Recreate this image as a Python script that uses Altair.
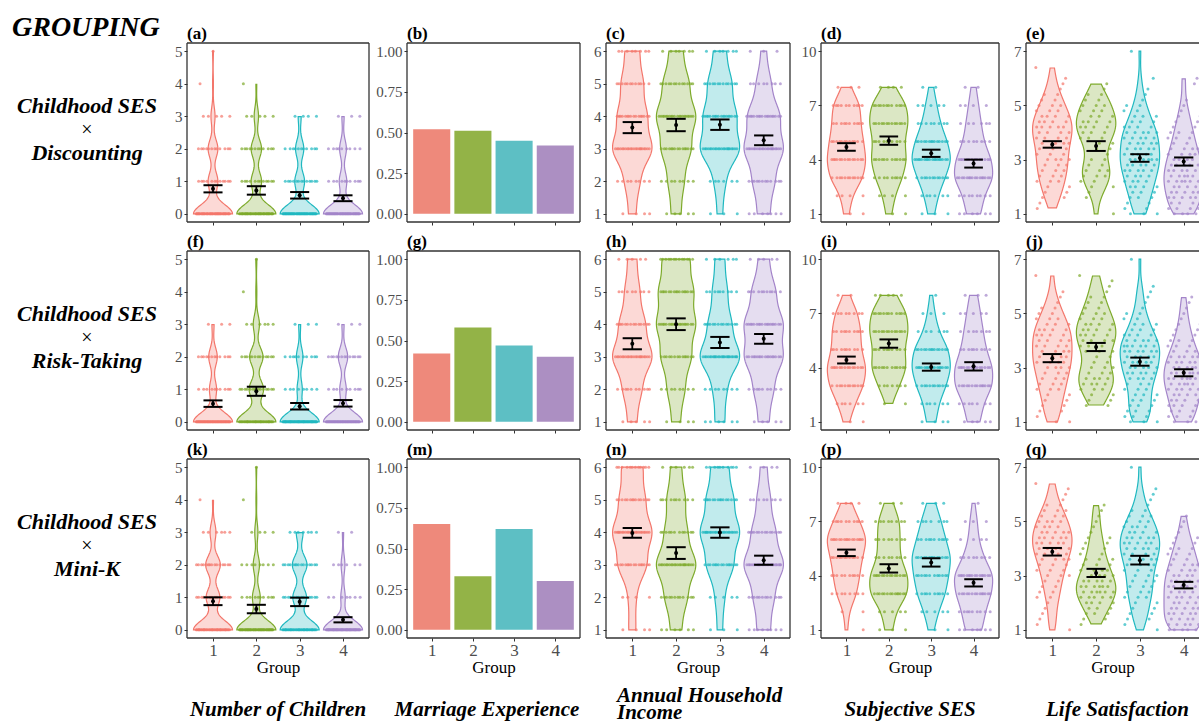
import altair as alt
import pandas as pd

FONT = "Liberation Serif"
GROUPS = [1, 2, 3, 4]
ROW_NAMES = ["Discounting", "Risk-Taking", "Mini-K"]
COLUMN_TITLES = ["Number of Children", "Marriage Experience", "Annual Household\nIncome",
                 "Subjective SES", "Life Satisfaction"]
LETTERS = [["(a)", "(b)", "(c)", "(d)", "(e)"],
           ["(f)", "(g)", "(h)", "(i)", "(j)"],
           ["(k)", "(m)", "(n)", "(p)", "(q)"]]

LINE_COLORS = ["#F3766B", "#7DAA2B", "#1FB8C0", "#A384C9"]
BAR_COLORS = ["#EE897B", "#93B347", "#5DBFC4", "#AC8FC2"]

# ---- Number of children (levels 0..5), counts per row / group ----
CHILD_LEVELS = [0, 1, 2, 3, 4, 5]
CHILD_COUNTS = [
    [[48, 12, 12, 5, 1, 1], [45, 12, 12, 5, 1, 0], [52, 13, 11, 4, 0, 0], [52, 10, 9, 3, 0, 0]],
    [[55, 10, 12, 3, 0, 0], [38, 14, 13, 6, 1, 1], [60, 8, 10, 3, 0, 0], [54, 9, 13, 3, 0, 0]],
    [[40, 14, 15, 6, 1, 0], [50, 10, 8, 4, 1, 1], [40, 14, 15, 7, 0, 0], [62, 7, 6, 2, 0, 0]],
]
CHILD_MEAN = [[0.77, 0.72, 0.57, 0.48], [0.56, 0.94, 0.48, 0.57], [0.88, 0.64, 0.86, 0.31]]
CHILD_SE = [[0.11, 0.13, 0.10, 0.09], [0.10, 0.14, 0.10, 0.10], [0.12, 0.13, 0.13, 0.08]]

# ---- Marriage experience (proportion) ----
MARRIAGE = [[0.52, 0.51, 0.45, 0.42], [0.42, 0.58, 0.47, 0.40], [0.65, 0.33, 0.62, 0.30]]

# ---- Annual household income (levels 1..6) ----
INCOME_LEVELS = [1, 2, 3, 4, 5, 6]
INCOME_COUNTS = [
    [[4, 8, 22, 16, 12, 8], [5, 8, 15, 20, 13, 7], [3, 6, 22, 18, 13, 7], [7, 12, 22, 18, 8, 3]],
    [[5, 10, 22, 14, 8, 5], [4, 8, 14, 18, 16, 13], [6, 8, 25, 14, 9, 6], [5, 9, 18, 18, 11, 5]],
    [[4, 4, 16, 22, 14, 12], [6, 12, 22, 12, 10, 6], [3, 5, 15, 22, 15, 10], [8, 12, 24, 14, 8, 4]],
]
INCOME_MEAN = [[3.65, 3.73, 3.74, 3.26], [3.40, 4.00, 3.44, 3.55], [3.98, 3.36, 3.99, 3.14]]
INCOME_SE = [[0.17, 0.19, 0.16, 0.15], [0.17, 0.18, 0.17, 0.15], [0.15, 0.18, 0.16, 0.14]]

# ---- Subjective SES (levels 1..8 on a 1..10 axis) ----
SES_LEVELS = [1, 2, 3, 4, 5, 6, 7, 8]
SES_COUNTS = [
    [[2, 4, 12, 14, 12, 10, 10, 3], [2, 4, 9, 12, 10, 13, 12, 4], [3, 6, 12, 18, 14, 8, 5, 2], [6, 8, 16, 14, 8, 6, 4, 2]],
    [[2, 6, 12, 14, 10, 10, 8, 2], [0, 2, 7, 12, 10, 13, 12, 5], [4, 6, 12, 16, 14, 6, 3, 1], [5, 7, 14, 14, 9, 7, 5, 3]],
    [[1, 2, 8, 10, 12, 16, 10, 4], [3, 5, 14, 14, 8, 8, 8, 3], [2, 5, 10, 12, 14, 10, 7, 3], [7, 9, 14, 16, 8, 4, 3, 1]],
]
SES_MEAN = [[4.70, 5.05, 4.35, 3.78], [4.42, 5.33, 4.03, 4.07], [5.26, 4.40, 4.73, 3.60]]
SES_SE = [[0.21, 0.23, 0.20, 0.22], [0.19, 0.23, 0.20, 0.23], [0.18, 0.23, 0.23, 0.20]]

# ---- Life satisfaction (levels 1.0..7.0 by 0.2) ----
LS_LEVELS = [1.0, 1.2, 1.4, 1.6, 1.8, 2.0, 2.2, 2.4, 2.6, 2.8, 3.0, 3.2, 3.4, 3.6, 3.8, 4.0,
             4.2, 4.4, 4.6, 4.8, 5.0, 5.2, 5.4, 5.6, 5.8, 6.0, 6.2, 6.4, 6.6, 6.8, 7.0]
LS_COUNTS = [
    [[0, 1, 1, 2, 2, 2, 3, 3, 3, 3, 4, 3, 3, 4, 4, 4, 5, 4, 4, 3, 3, 2, 2, 1, 1, 1, 0, 1, 0, 0, 0],
     [1, 0, 0, 1, 1, 2, 2, 3, 3, 2, 2, 1, 2, 2, 3, 3, 4, 4, 3, 3, 3, 2, 2, 1, 1, 0, 0, 0, 0, 0, 0],
     [3, 2, 2, 3, 3, 4, 4, 4, 5, 5, 6, 5, 5, 5, 5, 5, 4, 3, 3, 2, 2, 1, 1, 1, 0, 1, 0, 0, 0, 0, 1],
     [5, 4, 4, 5, 5, 5, 6, 6, 5, 5, 5, 4, 4, 3, 3, 3, 2, 2, 2, 1, 1, 1, 0, 0, 1, 1, 0, 0, 0, 0, 0]],
    [[2, 1, 2, 2, 2, 2, 3, 3, 3, 3, 4, 4, 4, 4, 4, 4, 4, 4, 3, 3, 2, 2, 1, 1, 1, 0, 0, 1, 0, 0, 0],
     [0, 0, 0, 2, 2, 2, 3, 4, 4, 3, 3, 2, 2, 3, 3, 4, 4, 4, 4, 3, 3, 2, 2, 2, 1, 1, 1, 1, 0, 0, 0],
     [3, 3, 3, 3, 3, 3, 3, 3, 4, 5, 5, 5, 5, 6, 6, 5, 4, 3, 3, 2, 2, 1, 1, 1, 1, 1, 0, 0, 0, 0, 1],
     [4, 3, 4, 4, 4, 5, 5, 6, 6, 6, 6, 5, 5, 4, 3, 3, 2, 2, 2, 1, 1, 1, 1, 1, 0, 0, 0, 0, 0, 0, 0]],
    [[1, 1, 1, 1, 1, 1, 2, 2, 2, 2, 3, 3, 3, 4, 4, 5, 5, 5, 5, 4, 4, 3, 3, 2, 1, 1, 1, 1, 0, 0, 0],
     [0, 1, 2, 3, 3, 4, 5, 6, 6, 5, 4, 4, 3, 3, 2, 2, 2, 2, 1, 1, 1, 1, 1, 1, 0, 0, 0, 0, 0, 0, 0],
     [1, 1, 2, 2, 2, 2, 3, 3, 3, 3, 3, 3, 4, 4, 4, 5, 5, 5, 4, 4, 3, 3, 2, 1, 1, 1, 1, 0, 0, 0, 1],
     [6, 5, 5, 5, 5, 5, 5, 5, 5, 5, 5, 4, 4, 3, 3, 3, 2, 2, 1, 1, 1, 1, 0, 0, 0, 0, 0, 0, 0, 0, 0]],
]
LS_MEAN = [[3.56, 3.50, 3.06, 2.93], [3.35, 3.76, 3.22, 2.81], [3.88, 3.10, 3.57, 2.65]]
LS_SE = [[0.12, 0.18, 0.14, 0.15], [0.15, 0.15, 0.15, 0.13], [0.14, 0.15, 0.16, 0.12]]

# ---- panel configuration (per column) ----
COLUMNS = [
    dict(kind="violin", levels=CHILD_LEVELS, counts=CHILD_COUNTS, mean=CHILD_MEAN, se=CHILD_SE,
         ydom=[-0.25, 5.25], yticks=[0, 1, 2, 3, 4, 5], yfmt="d", bw=0.28,
         ext=[0, 5], steps=201, width=182, xmax=4.6, axext=30, title_x=91),
    dict(kind="bar", values=MARRIAGE, ydom=[-0.05, 1.05], yticks=[0, 0.25, 0.5, 0.75, 1.0],
         yfmt=".2f", width=173, xmax=4.6, axext=37, title_x=80),
    dict(kind="violin", levels=INCOME_LEVELS, counts=INCOME_COUNTS, mean=INCOME_MEAN, se=INCOME_SE,
         ydom=[0.75, 6.25], yticks=[1, 2, 3, 4, 5, 6], yfmt="d", bw=0.45,
         ext=[1, 6], steps=201, width=184, xmax=4.6, axext=25, title_x=11),
    dict(kind="violin", levels=SES_LEVELS, counts=SES_COUNTS, mean=SES_MEAN, se=SES_SE,
         ydom=[0.55, 10.45], yticks=[1, 4, 7, 10], yfmt="d", bw=0.6,
         ext=[1, 8], steps=281, width=178, xmax=4.6, axext=30, title_x=89),
    # the last panel runs past the right edge of the figure, so it is cut at x = 4.35
    dict(kind="violin", levels=LS_LEVELS, counts=LS_COUNTS, mean=LS_MEAN, se=LS_SE,
         ydom=[0.7, 7.3], yticks=[1, 3, 5, 7], yfmt="d", bw=0.38,
         ext=[1, 7], steps=241, width=173, xmax=4.349, axext=26, title_x=91.5, open_right=True),
]
H = 179
ROW_SPACING = 7
GREY = "#4D4D4D"
FRAME = "#333333"
LABEL_SIZE = 21


def obs_frame(levels, counts):
    rows = []
    for g, cnts in zip(GROUPS, counts):
        for lv, c in zip(levels, cnts):
            rows.extend([{"group": g, "value": lv, "col": LINE_COLORS[g - 1]}] * c)
    return pd.DataFrame(rows)


def one_row():
    return alt.Data(values=[{"k": 0}])


def text_layer(text, x, y, size, weight="normal", style="normal", align="left", opacity=1.0,
               line_height=None):
    kw = dict(text=text, font=FONT, fontSize=size, fontWeight=weight, fontStyle=style,
              align=align, baseline="alphabetic", color="black", opacity=opacity)
    if line_height:
        kw.update(lineBreak="\n", lineHeight=line_height)
    return alt.Chart(one_row()).mark_text(**kw).encode(x=alt.value(x), y=alt.value(y))


def frame_layers(W, open_right):
    fr = alt.Chart(one_row())
    rule = dict(color=FRAME, strokeWidth=1.3)
    out = [
        fr.mark_rule(**rule).encode(x=alt.value(0), x2=alt.value(W), y=alt.value(0)),
        fr.mark_rule(**rule).encode(x=alt.value(0), x2=alt.value(W), y=alt.value(H)),
        fr.mark_rule(**rule).encode(x=alt.value(0), y=alt.value(0), y2=alt.value(H)),
    ]
    if not open_right:
        out.append(fr.mark_rule(**rule).encode(x=alt.value(W), y=alt.value(0), y2=alt.value(H)))
    return out


def panel(r, c):
    cfg = COLUMNS[c]
    W = cfg["width"]
    open_right = cfg.get("open_right", False)
    xs = alt.Scale(domain=[0.4, cfg["xmax"]], nice=False, zero=False)
    ys = alt.Scale(domain=cfg["ydom"], nice=False, zero=False)
    bottom = r == 2
    xaxis = alt.Axis(values=[1, 2, 3, 4], format="d", labels=bottom,
                     title="Group" if bottom else None, grid=False, domain=False,
                     tickSize=3, tickColor=FRAME, labelFontSize=17, labelColor=GREY,
                     labelFont=FONT, labelPadding=1, titleFont=FONT, titleFontSize=17,
                     titleFontWeight="normal", titleColor="black", titlePadding=1)
    yaxis = alt.Axis(values=cfg["yticks"], format=cfg["yfmt"], title=None, grid=False,
                     domain=False, tickSize=3, tickColor=FRAME, labelFontSize=15,
                     labelColor=GREY, labelFont=FONT, labelPadding=2,
                     minExtent=cfg["axext"], maxExtent=cfg["axext"])
    X = lambda f: alt.X(f, scale=xs, axis=xaxis)
    Y = lambda f: alt.Y(f, scale=ys, axis=yaxis)
    layers = []
    if cfg["kind"] == "bar":
        df = pd.DataFrame({"group": GROUPS, "p": cfg["values"][r], "col": BAR_COLORS})
        bars = alt.Chart(df).transform_calculate(
            bl="datum.group - 0.45", br="datum.group + 0.45", zero="0"
        ).mark_rect().encode(
            x=X("bl:Q"), x2="br:Q", y=Y("p:Q"), y2="zero:Q",
            fill=alt.Fill("col:N", scale=None))
        layers.append(bars)
    else:
        obs = obs_frame(cfg["levels"], cfg["counts"][r])
        violin = alt.Chart(obs).transform_joinaggregate(
            gmin="min(value)", gmax="max(value)", groupby=["group"]
        ).transform_density(
            "value", groupby=["group", "gmin", "gmax", "col"], bandwidth=cfg["bw"],
            extent=cfg["ext"], steps=cfg["steps"], as_=["v", "dens"]
        ).transform_filter(
            "datum.v >= datum.gmin - 1e-6 && datum.v <= datum.gmax + 1e-6"
        ).transform_joinaggregate(maxd="max(dens)", groupby=["group"]).transform_calculate(
            xl="datum.group - 0.45 * datum.dens / datum.maxd",
            xr="datum.group + 0.45 * datum.dens / datum.maxd",
        ).mark_area(orient="horizontal", fillOpacity=0.28, strokeWidth=1.2, clip=True).encode(
            y=Y("v:Q"), x=X("xl:Q"), x2="xr:Q",
            fill=alt.Fill("col:N", scale=None), stroke=alt.Stroke("col:N", scale=None),
            detail="group:N")
        dots = alt.Chart(obs).transform_window(
            rn="row_number()", groupby=["group", "value"]
        ).transform_calculate(
            jx="datum.group + ((datum.rn * 0.618034 + datum.value * 0.377) % 1 - 0.5) * 0.8"
        ).mark_circle(size=9, opacity=0.7, clip=True).encode(
            x=X("jx:Q"), y=Y("value:Q"), color=alt.Color("col:N", scale=None))
        summ = pd.DataFrame({"group": GROUPS, "mean": cfg["mean"][r], "se": cfg["se"][r]})
        base = alt.Chart(summ).transform_calculate(
            lo="datum.mean - datum.se", hi="datum.mean + datum.se",
            cl="datum.group - 0.22", cr="datum.group + 0.22")
        vline = base.mark_rule(color="black", strokeWidth=1.8, clip=True).encode(
            x=X("group:Q"), y=Y("lo:Q"), y2="hi:Q")
        cap_lo = base.mark_rule(color="black", strokeWidth=2, clip=True).encode(
            x=X("cl:Q"), x2="cr:Q", y=Y("lo:Q"))
        cap_hi = base.mark_rule(color="black", strokeWidth=2, clip=True).encode(
            x=X("cl:Q"), x2="cr:Q", y=Y("hi:Q"))
        pt = base.mark_circle(color="black", size=16, opacity=1, clip=True).encode(
            x=X("group:Q"), y=Y("mean:Q"))
        layers += [violin, dots, vline, cap_lo, cap_hi, pt]

    layers += frame_layers(W, open_right)

    # panel letter
    layers.append(text_layer(LETTERS[r][c], 0, -4, 17, weight="bold"))
    if r == 0:
        if c == 0:
            layers.append(text_layer("GROUPING", -175, -7, 28, weight="bold", style="italic"))
        else:
            # invisible twin keeps the top edge of every column the same
            layers.append(text_layer("GROUPING", 0, -7, 28, weight="bold", style="italic", opacity=0))
    if c == 0:
        layers.append(text_layer("Childhood SES", -100, 70, 22, weight="bold", style="italic", align="center"))
        layers.append(text_layer("\u00d7", -100, 93, 20, align="center"))
        layers.append(text_layer(ROW_NAMES[r], -100, 117, 22, weight="bold", style="italic", align="center"))
    if r == 2:
        t = COLUMN_TITLES[c]
        if "\n" in t:
            layers.append(text_layer(t, cfg["title_x"], H + 64, LABEL_SIZE, weight="bold",
                                     style="italic", line_height=17))
        else:
            layers.append(text_layer(t, cfg["title_x"], H + 78, LABEL_SIZE, weight="bold",
                                     style="italic", align="center"))
    return alt.layer(*layers).properties(width=W, height=H)


columns = [alt.vconcat(*[panel(r, c) for r in range(3)], spacing=ROW_SPACING) for c in range(5)]
chart = alt.hconcat(*columns, spacing=0).properties(
    padding={"left": 12, "top": 14, "right": 0, "bottom": 0}
).configure_view(stroke="transparent", strokeWidth=0)

chart.save("out.html", embed_options={"renderer": "svg", "actions": False})
